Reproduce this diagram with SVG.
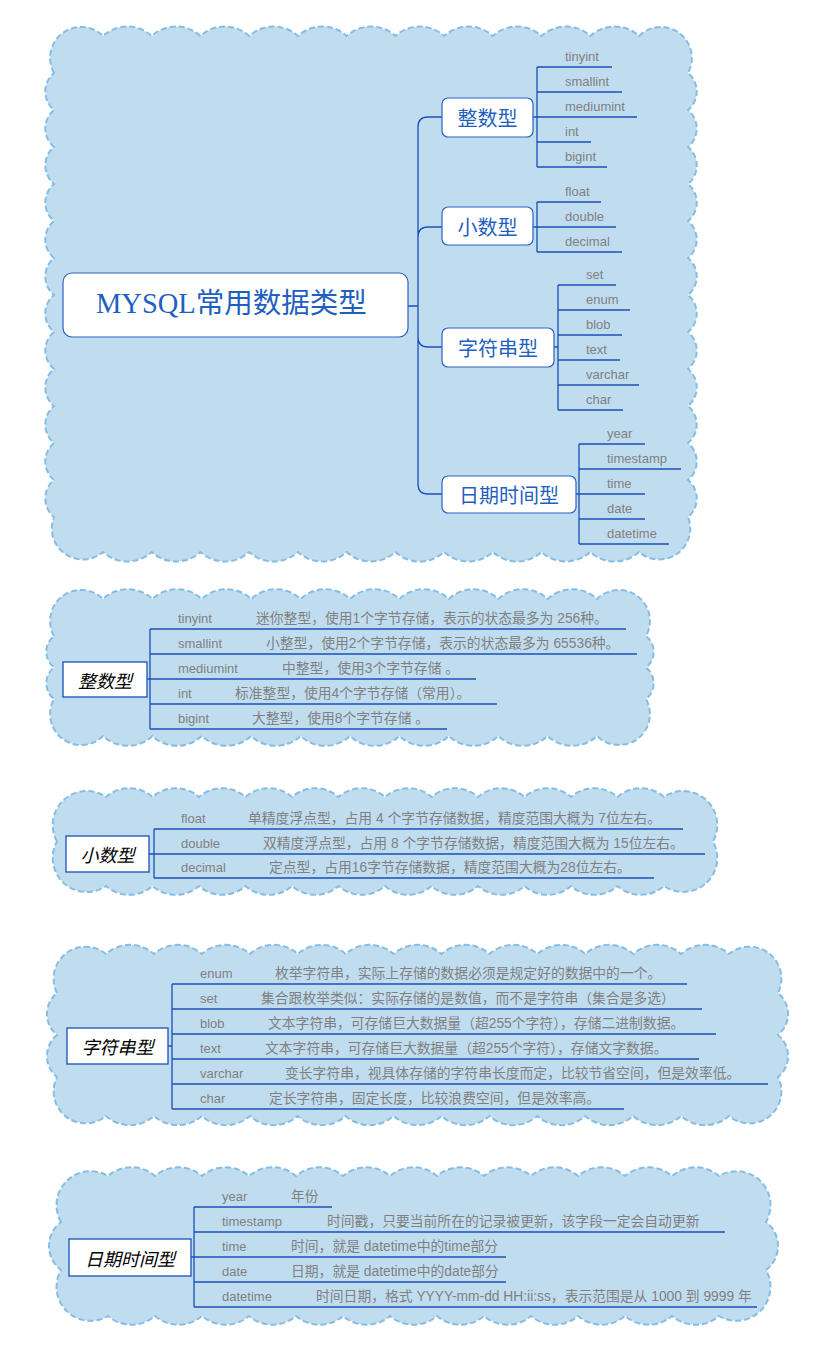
<svg xmlns="http://www.w3.org/2000/svg" width="840" height="1359" viewBox="0 0 840 1359">
<style>
.cloud{fill:#c0ddf0;stroke:#88bde3;stroke-width:2;stroke-dasharray:6 3}
.ln{fill:none;stroke:#1a4fb8;stroke-width:1.3}
.leaf{font-family:"Liberation Sans","Noto Sans CJK SC",sans-serif;font-size:13px;fill:#808080}
.desc{font-family:"Liberation Sans","Noto Sans CJK SC",sans-serif;font-size:13.8px;fill:#808080}
.nbox{fill:#fff;stroke:#2a62c0;stroke-width:1.2}
.ntxt{font-family:"Noto Sans CJK SC",sans-serif;font-size:20px;fill:#1f5fbf;text-anchor:middle;dominant-baseline:central}
.lbox{fill:#fff;stroke:#1a4fb8;stroke-width:1.3}
.ltxt{font-family:"Noto Sans CJK SC",sans-serif;font-size:18px;font-style:italic;fill:#000;text-anchor:middle;dominant-baseline:central}
</style>
<g id="clouds">
<path class="cloud" d="M54,73 A31 31 0 0 1 103,36 a36 36 0 0 1 48.73 0 a36 36 0 0 1 48.73 0 a36 36 0 0 1 48.73 0 a36 36 0 0 1 48.73 0 a36 36 0 0 1 48.73 0 a36 36 0 0 1 48.73 0 a36 36 0 0 1 48.73 0 a36 36 0 0 1 48.73 0 a36 36 0 0 1 48.73 0 a36 36 0 0 1 48.73 0 a36 36 0 0 1 48.73 0 A31 31 0 0 1 688,73 a24 24 0 0 1 0 37 a24 24 0 0 1 0 37 a24 24 0 0 1 0 37 a24 24 0 0 1 0 37 a24 24 0 0 1 0 37 a24 24 0 0 1 0 37 a24 24 0 0 1 0 37 a24 24 0 0 1 0 37 a24 24 0 0 1 0 37 a24 24 0 0 1 0 37 a24 24 0 0 1 0 37 a24 24 0 0 1 0 37 A31 31 0 0 1 639,552 a36 36 0 0 1 -48.73 0 a36 36 0 0 1 -48.73 0 a36 36 0 0 1 -48.73 0 a36 36 0 0 1 -48.73 0 a36 36 0 0 1 -48.73 0 a36 36 0 0 1 -48.73 0 a36 36 0 0 1 -48.73 0 a36 36 0 0 1 -48.73 0 a36 36 0 0 1 -48.73 0 a36 36 0 0 1 -48.73 0 a36 36 0 0 1 -48.73 0 A31 31 0 0 1 54,517 a24 24 0 0 1 0 -37 a24 24 0 0 1 0 -37 a24 24 0 0 1 0 -37 a24 24 0 0 1 0 -37 a24 24 0 0 1 0 -37 a24 24 0 0 1 0 -37 a24 24 0 0 1 0 -37 a24 24 0 0 1 0 -37 a24 24 0 0 1 0 -37 a24 24 0 0 1 0 -37 a24 24 0 0 1 0 -37 a24 24 0 0 1 0 -37 Z"/>
<path class="cloud" d="M54,636 A31 31 0 0 1 103,599 a36 36 0 0 1 49.4 0 a36 36 0 0 1 49.4 0 a36 36 0 0 1 49.4 0 a36 36 0 0 1 49.4 0 a36 36 0 0 1 49.4 0 a36 36 0 0 1 49.4 0 a36 36 0 0 1 49.4 0 a36 36 0 0 1 49.4 0 a36 36 0 0 1 49.4 0 a36 36 0 0 1 49.4 0 A31 31 0 0 1 646,636 a20 20 0 0 1 0 31.5 a20 20 0 0 1 0 31.5 A31 31 0 0 1 597,736 a36 36 0 0 1 -49.4 0 a36 36 0 0 1 -49.4 0 a36 36 0 0 1 -49.4 0 a36 36 0 0 1 -49.4 0 a36 36 0 0 1 -49.4 0 a36 36 0 0 1 -49.4 0 a36 36 0 0 1 -49.4 0 a36 36 0 0 1 -49.4 0 a36 36 0 0 1 -49.4 0 a36 36 0 0 1 -49.4 0 A31 31 0 0 1 54,699 a20 20 0 0 1 0 -31.5 a20 20 0 0 1 0 -31.5 Z"/>
<path class="cloud" d="M57,841.5 A34 34 0 0 1 106,797 a35 35 0 0 1 46.5 0 a35 35 0 0 1 46.5 0 a35 35 0 0 1 46.5 0 a35 35 0 0 1 46.5 0 a35 35 0 0 1 46.5 0 a35 35 0 0 1 46.5 0 a35 35 0 0 1 46.5 0 a35 35 0 0 1 46.5 0 a35 35 0 0 1 46.5 0 a35 35 0 0 1 46.5 0 a35 35 0 0 1 46.5 0 a35 35 0 0 1 46.5 0 A34 34 0 0 1 713,841.5 A34 34 0 0 1 664,886 a35 35 0 0 1 -46.5 0 a35 35 0 0 1 -46.5 0 a35 35 0 0 1 -46.5 0 a35 35 0 0 1 -46.5 0 a35 35 0 0 1 -46.5 0 a35 35 0 0 1 -46.5 0 a35 35 0 0 1 -46.5 0 a35 35 0 0 1 -46.5 0 a35 35 0 0 1 -46.5 0 a35 35 0 0 1 -46.5 0 a35 35 0 0 1 -46.5 0 a35 35 0 0 1 -46.5 0 A34 34 0 0 1 57,841.5 Z"/>
<path class="cloud" d="M57,993 A32 32 0 0 1 106,954 a36 36 0 0 1 47.923 0 a36 36 0 0 1 47.923 0 a36 36 0 0 1 47.923 0 a36 36 0 0 1 47.923 0 a36 36 0 0 1 47.923 0 a36 36 0 0 1 47.923 0 a36 36 0 0 1 47.923 0 a36 36 0 0 1 47.923 0 a36 36 0 0 1 47.923 0 a36 36 0 0 1 47.923 0 a36 36 0 0 1 47.923 0 a36 36 0 0 1 47.923 0 a36 36 0 0 1 47.923 0 A32 32 0 0 1 778,993 a27 27 0 0 1 0 42 a27 27 0 0 1 0 42 A32 32 0 0 1 729,1116 a36 36 0 0 1 -47.923 0 a36 36 0 0 1 -47.923 0 a36 36 0 0 1 -47.923 0 a36 36 0 0 1 -47.923 0 a36 36 0 0 1 -47.923 0 a36 36 0 0 1 -47.923 0 a36 36 0 0 1 -47.923 0 a36 36 0 0 1 -47.923 0 a36 36 0 0 1 -47.923 0 a36 36 0 0 1 -47.923 0 a36 36 0 0 1 -47.923 0 a36 36 0 0 1 -47.923 0 a36 36 0 0 1 -47.923 0 A32 32 0 0 1 57,1077 a27 27 0 0 1 0 -42 a27 27 0 0 1 0 -42 Z"/>
<path class="cloud" d="M61,1222 A34 34 0 0 1 108,1176 a36 36 0 0 1 47 0 a36 36 0 0 1 47 0 a36 36 0 0 1 47 0 a36 36 0 0 1 47 0 a36 36 0 0 1 47 0 a36 36 0 0 1 47 0 a36 36 0 0 1 47 0 a36 36 0 0 1 47 0 a36 36 0 0 1 47 0 a36 36 0 0 1 47 0 a36 36 0 0 1 47 0 a36 36 0 0 1 47 0 a36 36 0 0 1 47 0 A34 34 0 0 1 766,1222 a30 30 0 0 1 0 48 A34 34 0 0 1 719,1316 a36 36 0 0 1 -47 0 a36 36 0 0 1 -47 0 a36 36 0 0 1 -47 0 a36 36 0 0 1 -47 0 a36 36 0 0 1 -47 0 a36 36 0 0 1 -47 0 a36 36 0 0 1 -47 0 a36 36 0 0 1 -47 0 a36 36 0 0 1 -47 0 a36 36 0 0 1 -47 0 a36 36 0 0 1 -47 0 a36 36 0 0 1 -47 0 a36 36 0 0 1 -47 0 A34 34 0 0 1 61,1270 a30 30 0 0 1 0 -48 Z"/>
</g>
<g id="connectors" class="ln">
<path d="M408,306 H418 M418,306 V127 Q418,117 428,117 H442 M418,306 V237 Q418,227 428,227 H442 M418,306 V337 Q418,347 428,347 H442 M418,306 V484 Q418,494 428,494 H442"/>
<path d="M533,117 H537 M537,67 V167 M537,67 H612 M537,92 H622 M537,117 H637 M537,142 H591 M537,167 H607"/>
<path d="M533,227 H537 M537,202 V252 M537,202 H601 M537,227 H616 M537,252 H622"/>
<path d="M554,347 H558 M558,285 V410 M558,285 H616 M558,310 H630 M558,335 H622 M558,360 H620 M558,385 H639 M558,410 H623"/>
<path d="M576,494 H579 M579,444 V544 M579,444 H645 M579,469 H681 M579,494 H645 M579,519 H645 M579,544 H669"/>
<path d="M147,679 H150 M150,629 V729 M150,629 H626 M150,654 H637 M150,679 H476 M150,704 H497 M150,729 H447"/>
<path d="M149,854 H154 M154,829 V878 M154,829 H683 M154,854 H705 M154,878 H654"/>
<path d="M168,1046 H172 M172,984 V1109 M172,984 H687 M172,1009 H702 M172,1034 H716 M172,1059 H699 M172,1084 H768 M172,1109 H624"/>
<path d="M191,1257 H194 M194,1207 V1307 M194,1207 H332 M194,1232 H725 M194,1257 H506 M194,1282 H506 M194,1307 H757"/>
</g>
<g id="root">
<rect class="nbox" x="63" y="273" width="345" height="64" rx="9"/>
<text x="96" y="313" style="font-family:'Liberation Serif','Noto Sans CJK SC',serif;font-size:28.5px;fill:#1f5fbf">MYSQL常用数据类型</text>
</g>
<g id="node-int"><rect class="nbox" x="442" y="98" width="91" height="39" rx="6"/><text class="ntxt" x="487.5" y="117.5">整数型</text></g>
<g id="node-dec"><rect class="nbox" x="442" y="207" width="91" height="38" rx="6"/><text class="ntxt" x="487.5" y="226.5">小数型</text></g>
<g id="node-str"><rect class="nbox" x="442" y="328" width="112" height="39" rx="6"/><text class="ntxt" x="498" y="347.5">字符串型</text></g>
<g id="node-date"><rect class="nbox" x="442" y="476" width="134" height="37" rx="6"/><text class="ntxt" x="509" y="494.5">日期时间型</text></g>
<g id="leaves-int" class="leaf">
<g id="l-tinyint"><text x="565" y="61">tinyint</text></g>
<g id="l-smallint"><text x="565" y="86">smallint</text></g>
<g id="l-mediumint"><text x="565" y="111">mediumint</text></g>
<g id="l-int"><text x="565" y="136">int</text></g>
<g id="l-bigint"><text x="565" y="161">bigint</text></g>
</g>
<g id="leaves-dec" class="leaf">
<g id="l-float"><text x="565" y="196">float</text></g>
<g id="l-double"><text x="565" y="221">double</text></g>
<g id="l-decimal"><text x="565" y="246">decimal</text></g>
</g>
<g id="leaves-str" class="leaf">
<g id="l-set"><text x="586" y="279">set</text></g>
<g id="l-enum"><text x="586" y="304">enum</text></g>
<g id="l-blob"><text x="586" y="329">blob</text></g>
<g id="l-text"><text x="586" y="354">text</text></g>
<g id="l-varchar"><text x="586" y="379">varchar</text></g>
<g id="l-char"><text x="586" y="404">char</text></g>
</g>
<g id="leaves-date" class="leaf">
<g id="l-year"><text x="607" y="438">year</text></g>
<g id="l-timestamp"><text x="607" y="463">timestamp</text></g>
<g id="l-time"><text x="607" y="488">time</text></g>
<g id="l-date"><text x="607" y="513">date</text></g>
<g id="l-datetime"><text x="607" y="538">datetime</text></g>
</g>
<g id="detail-int">
<g id="lbl-int"><rect class="lbox" x="63" y="662" width="84" height="35"/><text class="ltxt" x="105" y="679.5">整数型</text></g>
<g id="d-tinyint"><text class="leaf" x="178" y="623">tinyint</text><text class="desc" x="256" y="623">迷你整型，使用1个字节存储，表示的状态最多为 256种。</text></g>
<g id="d-smallint"><text class="leaf" x="178" y="648">smallint</text><text class="desc" x="266" y="648">小整型，使用2个字节存储，表示的状态最多为 65536种。</text></g>
<g id="d-mediumint"><text class="leaf" x="178" y="673">mediumint</text><text class="desc" x="282" y="673">中整型，使用3个字节存储 。</text></g>
<g id="d-int"><text class="leaf" x="178" y="698">int</text><text class="desc" x="235" y="698">标准整型，使用4个字节存储（常用）。</text></g>
<g id="d-bigint"><text class="leaf" x="178" y="723">bigint</text><text class="desc" x="252" y="723">大整型，使用8个字节存储 。</text></g>
</g>
<g id="detail-dec">
<g id="lbl-dec"><rect class="lbox" x="66" y="836" width="83" height="36"/><text class="ltxt" x="107.5" y="854">小数型</text></g>
<g id="d-float"><text class="leaf" x="181" y="823">float</text><text class="desc" x="248" y="823">单精度浮点型，占用 4 个字节存储数据，精度范围大概为 7位左右。</text></g>
<g id="d-double"><text class="leaf" x="181" y="848">double</text><text class="desc" x="263" y="848">双精度浮点型，占用 8 个字节存储数据，精度范围大概为 15位左右。</text></g>
<g id="d-decimal"><text class="leaf" x="181" y="872">decimal</text><text class="desc" x="269" y="872">定点型，占用16字节存储数据，精度范围大概为28位左右。</text></g>
</g>
<g id="detail-str">
<g id="lbl-str"><rect class="lbox" x="67" y="1028" width="101" height="36"/><text class="ltxt" x="117.5" y="1046">字符串型</text></g>
<g id="d-enum"><text class="leaf" x="200" y="978">enum</text><text class="desc" x="275" y="978">枚举字符串，实际上存储的数据必须是规定好的数据中的一个。</text></g>
<g id="d-set"><text class="leaf" x="200" y="1003">set</text><text class="desc" x="261" y="1003">集合跟枚举类似：实际存储的是数值，而不是字符串（集合是多选）</text></g>
<g id="d-blob"><text class="leaf" x="200" y="1028">blob</text><text class="desc" x="268" y="1028">文本字符串，可存储巨大数据量（超255个字符），存储二进制数据。</text></g>
<g id="d-text"><text class="leaf" x="200" y="1053">text</text><text class="desc" x="265" y="1053">文本字符串，可存储巨大数据量（超255个字符），存储文字数据。</text></g>
<g id="d-varchar"><text class="leaf" x="200" y="1078">varchar</text><text class="desc" x="285" y="1078">变长字符串，视具体存储的字符串长度而定，比较节省空间，但是效率低。</text></g>
<g id="d-char"><text class="leaf" x="200" y="1103">char</text><text class="desc" x="269" y="1103">定长字符串，固定长度，比较浪费空间，但是效率高。</text></g>
</g>
<g id="detail-date">
<g id="lbl-date"><rect class="lbox" x="69" y="1239" width="122" height="37"/><text class="ltxt" x="130" y="1257.5">日期时间型</text></g>
<g id="d-year"><text class="leaf" x="222" y="1201">year</text><text class="desc" x="291" y="1201">年份</text></g>
<g id="d-timestamp"><text class="leaf" x="222" y="1226">timestamp</text><text class="desc" x="327" y="1226">时间戳，只要当前所在的记录被更新，该字段一定会自动更新</text></g>
<g id="d-time"><text class="leaf" x="222" y="1251">time</text><text class="desc" x="291" y="1251">时间，就是 datetime中的time部分</text></g>
<g id="d-date"><text class="leaf" x="222" y="1276">date</text><text class="desc" x="291" y="1276">日期，就是 datetime中的date部分</text></g>
<g id="d-datetime"><text class="leaf" x="222" y="1301">datetime</text><text class="desc" x="316" y="1301">时间日期，格式 YYYY-mm-dd HH:ii:ss，表示范围是从 1000 到 9999 年</text></g>
</g>
</svg>
